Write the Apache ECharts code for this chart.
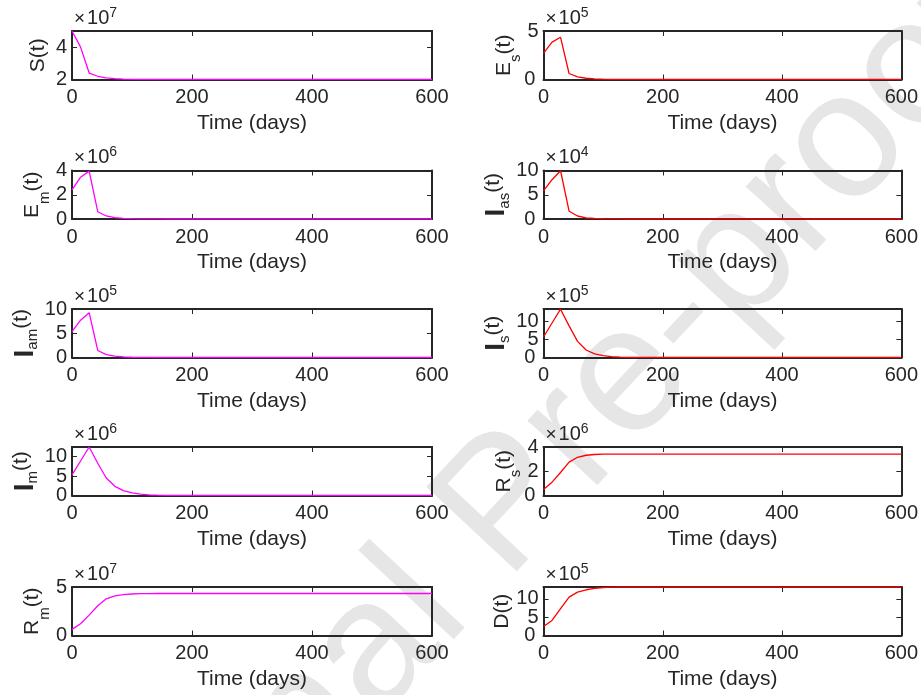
<!DOCTYPE html>
<html>
<head>
<meta charset="utf-8">
<script src="https://cdn.jsdelivr.net/npm/echarts@6/dist/echarts.min.js"></script>
<style>
  html, body { margin: 0; padding: 0; background: #fff; }
  #chart { width: 921px; height: 695px; }
</style>
</head>
<body>
<div id="chart"></div>
<script>
// Output times of the simulation (days)
const days = [0, 14.3, 28.6, 42.9, 57.1, 71.4, 85.7, 100, 114.3, 128.6, 142.9, 157.1, 171.4, 185.7, 200, 300, 400, 500, 600];

// Compartment sizes, in units of the exponent shown above each panel
const S   = [5.0, 4.0, 2.4, 2.2, 2.1, 2.05, 2.02, 2.01, 2.005, 2.0, 2.0, 2.0, 2.0, 2.0, 2.0, 2.0, 2.0, 2.0, 2.0];           // x1e7
const Es  = [2.7, 3.85, 4.35, 0.62, 0.27, 0.13, 0.07, 0.04, 0.02, 0.01, 0.005, 0, 0, 0, 0, 0, 0, 0, 0];                 // x1e5
const Em  = [2.4, 3.45, 3.95, 0.6, 0.25, 0.11, 0.05, 0.025, 0.012, 0.006, 0.003, 0, 0, 0, 0, 0, 0, 0, 0];              // x1e6
const Ias = [5.8, 8.1, 9.95, 1.6, 0.62, 0.25, 0.11, 0.05, 0.02, 0.01, 0, 0, 0, 0, 0, 0, 0, 0, 0];                      // x1e4
const Iam = [5.35, 7.7, 9.25, 1.45, 0.6, 0.27, 0.12, 0.05, 0.02, 0.01, 0, 0, 0, 0, 0, 0, 0, 0, 0];                     // x1e5
const Is  = [5.7, 9.6, 13.45, 8.8, 4.5, 2.08, 1.0, 0.5, 0.25, 0.12, 0.06, 0.03, 0.01, 0, 0, 0, 0, 0, 0];               // x1e5
const Im  = [5.3, 8.9, 12.5, 8.3, 4.5, 2.37, 1.27, 0.68, 0.35, 0.18, 0.09, 0.05, 0.02, 0.01, 0, 0, 0, 0, 0];           // x1e6
const Rs  = [0.5, 1.1, 1.9, 2.75, 3.15, 3.32, 3.38, 3.41, 3.42, 3.42, 3.42, 3.42, 3.42, 3.42, 3.42, 3.42, 3.42, 3.42, 3.42]; // x1e6
const Rm  = [0.63, 1.22, 2.1, 3.07, 3.78, 4.09, 4.22, 4.28, 4.31, 4.32, 4.33, 4.33, 4.33, 4.33, 4.33, 4.33, 4.33, 4.33, 4.33]; // x1e7
const D   = [2.45, 4.1, 7.3, 10.45, 11.8, 12.45, 12.85, 13.05, 13.15, 13.2, 13.2, 13.2, 13.2, 13.2, 13.2, 13.2, 13.2, 13.2, 13.2]; // x1e5

const xTickStep = 200;

const FONT = '"Liberation Sans", Arial, Helvetica, sans-serif';
const INK = '#262626';
const MAGENTA = '#ff00ff';
const RED = '#ff0000';

// One entry per subplot: y-label (rich text), exponent, y-range, tick step, slot
const panels = [
  { data: S,   label: '{m|S(t)}',           exp: '7', min: 2, max: 5,    step: 2, col: 0, row: 0, gap: 22 },
  { data: Es,  label: '{m|E}{s|s}{m|(t)}',  exp: '5', min: 0, max: 5,    step: 5, col: 1, row: 0, gap: 22 },
  { data: Em,  label: '{m|E}{s|m}{m|(t)}',  exp: '6', min: 0, max: 4,    step: 2, col: 0, row: 1, gap: 22 },
  { data: Ias, label: '{i|I}{s|as}{m|(t)}', exp: '4', min: 0, max: 10,   step: 5, col: 1, row: 1, gap: 30 },
  { data: Iam, label: '{i|I}{s|am}{m|(t)}', exp: '5', min: 0, max: 10,   step: 5, col: 0, row: 2, gap: 30 },
  { data: Is,  label: '{i|I}{s|s}{m|(t)}',  exp: '5', min: 0, max: 13.5, step: 5, col: 1, row: 2, gap: 30 },
  { data: Im,  label: '{i|I}{s|m}{m|(t)}',  exp: '6', min: 0, max: 12.5, step: 5, col: 0, row: 3, gap: 30 },
  { data: Rs,  label: '{m|R}{s|s}{m|(t)}',  exp: '6', min: 0, max: 4,    step: 2, col: 1, row: 3, gap: 22 },
  { data: Rm,  label: '{m|R}{s|m}{m|(t)}',  exp: '7', min: 0, max: 5,    step: 5, col: 0, row: 4, gap: 22 },
  { data: D,   label: '{m|D(t)}',           exp: '5', min: 0, max: 13.2, step: 5, col: 1, row: 4, gap: 30 }
];

const colLeft = [72, 543.5];
const colWidth = [360, 361];
const rowTop = [31, 170.5, 309, 447, 587];
const rowHeight = 48.5;

const nameRich = {
  m: { fontSize: 21, fontFamily: FONT, color: INK, lineHeight: 22, verticalAlign: 'top' },
  s: { fontSize: 15, fontFamily: FONT, color: INK, lineHeight: 15, verticalAlign: 'top', padding: [15, 0, 0, 0] },
  i: { fontSize: 28, fontFamily: FONT, fontWeight: 'bold', color: INK, lineHeight: 28, verticalAlign: 'top' }
};
const expRich = {
  x: { fontSize: 19, fontFamily: FONT, color: INK, lineHeight: 22, verticalAlign: 'bottom', padding: [0, 2, 0, 0] },
  m: { fontSize: 20, fontFamily: FONT, color: INK, lineHeight: 22, verticalAlign: 'bottom' },
  p: { fontSize: 14, fontFamily: FONT, color: INK, lineHeight: 14, verticalAlign: 'top' }
};

const axisLine = () => ({ show: true, onZero: false, lineStyle: { color: INK, width: 2 } });
const axisTick = () => ({ show: true, inside: true, length: 5, lineStyle: { color: INK, width: 1 } });
const isTick = (v, p) => Math.abs(v / p.step - Math.round(v / p.step)) < 1e-9;
const yLabelFont = { color: INK, fontSize: 20, fontFamily: FONT };

const grid = [], xAxis = [], yAxis = [], series = [];

panels.forEach((p, k) => {
  grid.push({ left: colLeft[p.col], top: rowTop[p.row], width: colWidth[p.col], height: rowHeight });

  const xb = xAxis.length;
  xAxis.push({
    type: 'value', gridIndex: k, position: 'bottom', min: 0, max: 600, interval: xTickStep,
    axisLine: axisLine(), axisTick: axisTick(),
    axisLabel: { show: true, color: INK, fontSize: 20, fontFamily: FONT, margin: 8, showMinLabel: true, showMaxLabel: true },
    splitLine: { show: false },
    name: 'Time (days)', nameLocation: 'middle', nameGap: 33,
    nameTextStyle: { color: INK, fontSize: 21, fontFamily: FONT }
  });
  // top edge of the box; also carries the "×10^n" multiplier at its left end
  xAxis.push({
    type: 'value', gridIndex: k, position: 'top', min: 0, max: 600, interval: xTickStep,
    axisLine: axisLine(), axisTick: axisTick(),
    axisLabel: { show: false }, splitLine: { show: false },
    name: '{x|×}{m|10}{p|' + p.exp + '}', nameLocation: 'start', nameGap: -2,
    nameTextStyle: { rich: expRich, align: 'left', verticalAlign: 'bottom', padding: [0, 0, 3, 0] }
  });

  // left edge: tick labels above the lowest one, plus the y-axis title
  const yb = yAxis.length;
  yAxis.push({
    type: 'value', gridIndex: k, position: 'left', min: p.min, max: p.max, interval: p.step,
    axisLine: axisLine(), axisTick: axisTick(),
    axisLabel: Object.assign({
      show: true, margin: 5, showMinLabel: false, showMaxLabel: true,
      formatter: v => (v > p.min && isTick(v, p) ? String(v) : '')
    }, yLabelFont),
    splitLine: { show: false },
    name: p.label, nameLocation: 'middle', nameRotate: 90, nameGap: p.gap,
    nameTextStyle: { rich: nameRich }
  });
  // right edge: ticks only; its lowest label is carried across to the left edge
  yAxis.push({
    type: 'value', gridIndex: k, position: 'right', min: p.min, max: p.max, interval: p.step,
    axisLine: axisLine(), axisTick: axisTick(),
    axisLabel: Object.assign({
      show: true, margin: -(colWidth[p.col] + 5), align: 'right', showMinLabel: true, showMaxLabel: false,
      formatter: v => (v === p.min ? String(v) : '')
    }, yLabelFont),
    splitLine: { show: false }
  });

  series.push({
    type: 'line', xAxisIndex: xb, yAxisIndex: yb,
    data: days.map((t, i) => [t, p.data[i]]),
    showSymbol: false, symbol: 'none', clip: true, z: 5,
    lineStyle: { color: p.col === 0 ? MAGENTA : RED, width: 1.3 }
  });
});

const chart = echarts.init(document.getElementById('chart'), null, { renderer: 'canvas' });
chart.setOption({
  animation: false,
  backgroundColor: '#ffffff',
  grid, xAxis, yAxis, series,
  graphic: [{
    type: 'text', z: -10, x: 508, y: 508, rotation: 47 * Math.PI / 180,
    style: { text: 'Journal Pre-proof', font: '180px ' + FONT, fill: '#e6e6e6', align: 'center', verticalAlign: 'middle' }
  }]
});
</script>
</body>
</html>
